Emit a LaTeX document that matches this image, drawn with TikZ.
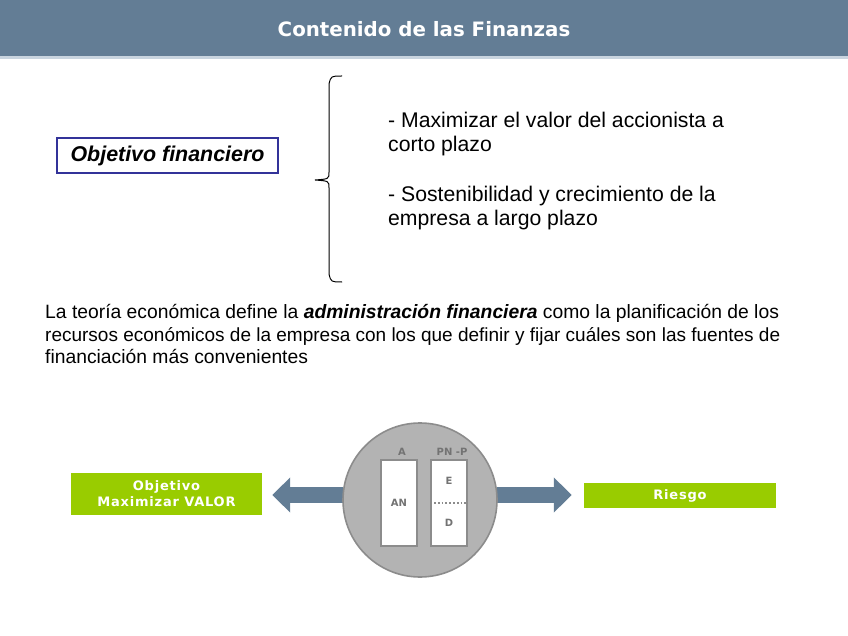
\documentclass[tikz,border=0pt]{standalone}
\usepackage{fontspec}
\setmainfont{Liberation Sans}
\newfontfamily\verdana{DejaVu Sans}
\usetikzlibrary{arrows.meta}

\definecolor{slate}{HTML}{637D95}
\definecolor{slatelight}{HTML}{C9D4DF}
\definecolor{navy}{HTML}{333399}
\definecolor{leaf}{HTML}{99CC00}
\definecolor{discfill}{HTML}{B3B3B3}
\definecolor{discline}{HTML}{8C8C8C}
\definecolor{tag}{HTML}{737373}

\begin{document}
\begin{tikzpicture}[x=1pt, y=-1pt,
  heading/.style={anchor=base, text=white, inner sep=0pt,
                  font=\verdana\bfseries\fontsize{19.8}{22}\selectfont},
  goal/.style={rectangle, draw=navy, line width=1.8pt, minimum width=221pt,
               minimum height=35pt, font=\bfseries\itshape\fontsize{21.4}{24}\selectfont},
  bullet/.style={anchor=base west, inner sep=0pt, font=\fontsize{21.2}{24}\selectfont},
  para/.style={anchor=base west, inner sep=0pt, font=\fontsize{19.3}{23}\selectfont},
  green/.style={rectangle, fill=leaf, text=white, align=center, inner sep=0pt,
                font=\verdana\bfseries\fontsize{13}{16}\selectfont\addfontfeature{LetterSpace=6}},
  part/.style={rectangle, draw=discline, line width=1.6pt, fill=white,
               minimum width=36pt, minimum height=86pt},
  lbl/.style={text=tag, inner sep=0pt, font=\verdana\bfseries\fontsize{10}{11}\selectfont},
  fat/.style={draw=slate, line width=16pt, -{Triangle[length=18pt,width=34pt]}}
]
\useasboundingbox (0,0) rectangle (848,636);

% header bar
\fill[slate] (0,0) rectangle (848,56);
\fill[slatelight] (0,56) rectangle (848,59);
\node[heading] (head) at (424,37) {Contenido de las Finanzas};

% objective and brace
\node[goal] (obj) at (167.5,155.5) {Objetivo financiero};
\draw[line width=1pt] (342,76) .. controls (331,76) .. (329,84) -- (329,172)
  .. controls (329,179) .. (315,180) .. controls (329,181) .. (329,188)
  -- (329,274) .. controls (331,282) .. (342,282);
\node[bullet] (b1) at (388,128) {- Maximizar el valor del accionista a};
\node[bullet] (b1b) at (388,152) {corto plazo};
\node[bullet] (b2) at (388,202) {- Sostenibilidad y crecimiento de la};
\node[bullet] (b2b) at (388,226) {empresa a largo plazo};

% definition
\node[para] (def1) at (45,318)
  {La teoría económica define la \textbf{\textit{administración financiera}} como la planificación de los};
\node[para, font=\fontsize{19}{23}\selectfont] (def2) at (45,341)
  {recursos económicos de la empresa con los que definir y fijar cuáles son las fuentes de};
\node[para] (def3) at (45,363) {financiación más convenientes};

% balance disc
\node[green, minimum width=191pt, minimum height=42pt] (value) at (166.5,494)
  {Objetivo\\Maximizar VALOR};
\node[green, minimum width=192pt, minimum height=25pt] (risk) at (680,495.5) {Riesgo};
\node[circle, minimum size=154pt] (disc) at (420,500) {};
\draw[fat, shorten >=10pt] ([yshift=5pt]disc.west) -- ([yshift=-1pt]value.east);
\draw[fat, shorten >=12pt] ([yshift=5pt]disc.east) -- ([yshift=0.5pt]risk.west);
\node[circle, fill=discfill, draw=discline, line width=1.6pt,
      minimum size=154pt] at (disc) {};
\node[part] (assets) at (399,503) {};
\node[part] (funds) at (449,503) {};
\draw[dotted, line width=1.8pt, discline] (funds.west) -- (funds.east);
\node[lbl] (ta) at (402,452) {A};
\node[lbl] (tp) at (452,452) {PN -P};
\node[lbl] (tan) at (assets) {AN};
\node[lbl] (te) at (449,481) {E};
\node[lbl] (td) at (449,523) {D};
\end{tikzpicture}
\end{document}
